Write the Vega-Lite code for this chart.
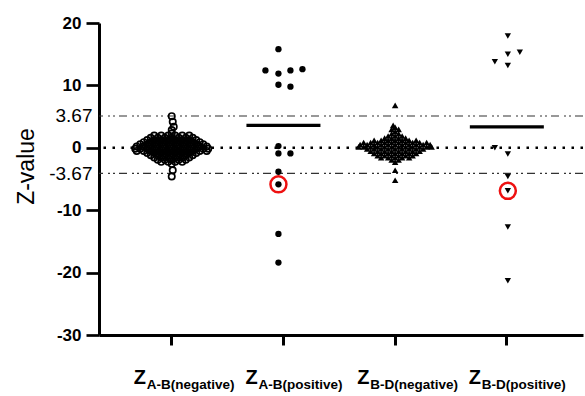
{
  "$schema": "https://vega.github.io/schema/vega-lite/v6.json",
  "width": 484,
  "height": 312,
  "autosize": {"type": "none"},
  "padding": {"left": 99, "top": 23, "right": 2, "bottom": 61},
  "background": "white",
  "config": {"view": {"stroke": null}, "font": "Liberation Sans"},
  "datasets": {
    "thresholds": [{"z": 5.1}, {"z": -4.1}],
    "zero": [{"z": 0}],
    "means": [{"group": "A-B(positive)", "z": 3.58}, {"group": "B-D(positive)", "z": 3.36}],
    "groups": [{"group": "A-B(negative)", "letter": "Z"}, {"group": "A-B(positive)", "letter": "Z"}, {"group": "B-D(negative)", "letter": "Z"}, {"group": "B-D(positive)", "letter": "Z"}],
    "flagged": [{"group": "A-B(positive)", "z": -5.86, "dx": -5}, {"group": "B-D(positive)", "z": -6.9, "dx": 1}],
    "abNeg": [
      {"z":5.07,"dx":0},{"z":4.17,"dx":1},{"z":3.37,"dx":2},{"z":2.84,"dx":0},
      {"z":2.3,"dx":0},
      {"z":1.95,"dx":-17.5},{"z":1.95,"dx":-10.5},{"z":1.95,"dx":-3.5},{"z":1.95,"dx":3.5},{"z":1.95,"dx":10.5},{"z":1.95,"dx":17.5},
      {"z":1.6,"dx":-21},{"z":1.6,"dx":-14},{"z":1.6,"dx":-7},{"z":1.6,"dx":0},{"z":1.6,"dx":7},{"z":1.6,"dx":14},{"z":1.6,"dx":21},
      {"z":1.25,"dx":-24.5},{"z":1.25,"dx":-17.5},{"z":1.25,"dx":-10.5},{"z":1.25,"dx":-3.5},{"z":1.25,"dx":3.5},{"z":1.25,"dx":10.5},{"z":1.25,"dx":17.5},{"z":1.25,"dx":24.5},
      {"z":0.9,"dx":-28},{"z":0.9,"dx":-21},{"z":0.9,"dx":-14},{"z":0.9,"dx":-7},{"z":0.9,"dx":0},{"z":0.9,"dx":7},{"z":0.9,"dx":14},{"z":0.9,"dx":21},{"z":0.9,"dx":28},
      {"z":0.55,"dx":-31.5},{"z":0.55,"dx":-24.5},{"z":0.55,"dx":-17.5},{"z":0.55,"dx":-10.5},{"z":0.55,"dx":-3.5},{"z":0.55,"dx":3.5},{"z":0.55,"dx":10.5},{"z":0.55,"dx":17.5},{"z":0.55,"dx":24.5},{"z":0.55,"dx":31.5},
      {"z":0.2,"dx":-35},{"z":0.2,"dx":-28},{"z":0.2,"dx":-21},{"z":0.2,"dx":-14},{"z":0.2,"dx":-7},{"z":0.2,"dx":0},{"z":0.2,"dx":7},{"z":0.2,"dx":14},{"z":0.2,"dx":21},{"z":0.2,"dx":28},{"z":0.2,"dx":35},
      {"z":-0.15,"dx":-36.5},{"z":-0.15,"dx":-31.5},{"z":-0.15,"dx":-24.5},{"z":-0.15,"dx":-17.5},{"z":-0.15,"dx":-10.5},{"z":-0.15,"dx":-3.5},{"z":-0.15,"dx":3.5},{"z":-0.15,"dx":10.5},{"z":-0.15,"dx":17.5},{"z":-0.15,"dx":24.5},{"z":-0.15,"dx":31.5},{"z":-0.15,"dx":36.5},
      {"z":-0.5,"dx":-35},{"z":-0.5,"dx":-28},{"z":-0.5,"dx":-21},{"z":-0.5,"dx":-14},{"z":-0.5,"dx":-7},{"z":-0.5,"dx":0},{"z":-0.5,"dx":7},{"z":-0.5,"dx":14},{"z":-0.5,"dx":21},{"z":-0.5,"dx":28},{"z":-0.5,"dx":35},
      {"z":-0.85,"dx":-24.5},{"z":-0.85,"dx":-17.5},{"z":-0.85,"dx":-10.5},{"z":-0.85,"dx":-3.5},{"z":-0.85,"dx":3.5},{"z":-0.85,"dx":10.5},{"z":-0.85,"dx":17.5},{"z":-0.85,"dx":24.5},
      {"z":-1.2,"dx":-21},{"z":-1.2,"dx":-14},{"z":-1.2,"dx":-7},{"z":-1.2,"dx":0},{"z":-1.2,"dx":7},{"z":-1.2,"dx":14},{"z":-1.2,"dx":21},
      {"z":-1.55,"dx":-17.5},{"z":-1.55,"dx":-10.5},{"z":-1.55,"dx":-3.5},{"z":-1.55,"dx":3.5},{"z":-1.55,"dx":10.5},{"z":-1.55,"dx":17.5},
      {"z":-1.9,"dx":-14},{"z":-1.9,"dx":-7},{"z":-1.9,"dx":0},{"z":-1.9,"dx":7},{"z":-1.9,"dx":14},
      {"z":-2.25,"dx":-10.5},{"z":-2.25,"dx":-3.5},{"z":-2.25,"dx":3.5},{"z":-2.25,"dx":10.5},
      {"z":-2.6,"dx":0},
      {"z":-3.6,"dx":1},{"z":-4.6,"dx":0}
    ],
    "abPos": [
      {"z": 15.8, "dx": -5}, {"z": 12.4, "dx": -18}, {"z": 11.9, "dx": -5}, {"z": 12.4, "dx": 7}, {"z": 12.6, "dx": 19},
      {"z": 10.1, "dx": -5}, {"z": 9.8, "dx": 7}, {"z": 0.27, "dx": -5}, {"z": -0.9, "dx": -5}, {"z": -0.9, "dx": 7},
      {"z": -3.84, "dx": -5}, {"z": -5.86, "dx": -5}, {"z": -13.8, "dx": -5}, {"z": -18.4, "dx": -5}
    ],
    "bdNeg": [
      {"z":6.8,"dx":0},{"z":3.6,"dx":-2},
      {"z":3.3,"dx":0},
      {"z":2.95,"dx":-3.5},{"z":2.95,"dx":3.5},
      {"z":2.6,"dx":0},
      {"z":2.25,"dx":-3.5},{"z":2.25,"dx":3.5},
      {"z":1.9,"dx":-7},{"z":1.9,"dx":0},{"z":1.9,"dx":7},
      {"z":1.55,"dx":-10.5},{"z":1.55,"dx":-3.5},{"z":1.55,"dx":3.5},{"z":1.55,"dx":10.5},
      {"z":1.2,"dx":-21},{"z":1.2,"dx":-14},{"z":1.2,"dx":-7},{"z":1.2,"dx":0},{"z":1.2,"dx":7},{"z":1.2,"dx":14},{"z":1.2,"dx":21},
      {"z":0.85,"dx":-31.5},{"z":0.85,"dx":-24.5},{"z":0.85,"dx":-17.5},{"z":0.85,"dx":-10.5},{"z":0.85,"dx":-3.5},{"z":0.85,"dx":3.5},{"z":0.85,"dx":10.5},{"z":0.85,"dx":17.5},{"z":0.85,"dx":24.5},{"z":0.85,"dx":31.5},
      {"z":0.5,"dx":-35},{"z":0.5,"dx":-28},{"z":0.5,"dx":-21},{"z":0.5,"dx":-14},{"z":0.5,"dx":-7},{"z":0.5,"dx":0},{"z":0.5,"dx":7},{"z":0.5,"dx":14},{"z":0.5,"dx":21},{"z":0.5,"dx":28},{"z":0.5,"dx":35},
      {"z":0.15,"dx":-36.5},{"z":0.15,"dx":-31.5},{"z":0.15,"dx":-24.5},{"z":0.15,"dx":-17.5},{"z":0.15,"dx":-10.5},{"z":0.15,"dx":-3.5},{"z":0.15,"dx":3.5},{"z":0.15,"dx":10.5},{"z":0.15,"dx":17.5},{"z":0.15,"dx":24.5},{"z":0.15,"dx":31.5},{"z":0.15,"dx":36.5},
      {"z":-0.2,"dx":-28},{"z":-0.2,"dx":-21},{"z":-0.2,"dx":-14},{"z":-0.2,"dx":-7},{"z":-0.2,"dx":0},{"z":-0.2,"dx":7},{"z":-0.2,"dx":14},{"z":-0.2,"dx":21},{"z":-0.2,"dx":28},
      {"z":-0.55,"dx":-24.5},{"z":-0.55,"dx":-17.5},{"z":-0.55,"dx":-10.5},{"z":-0.55,"dx":-3.5},{"z":-0.55,"dx":3.5},{"z":-0.55,"dx":10.5},{"z":-0.55,"dx":17.5},{"z":-0.55,"dx":24.5},
      {"z":-0.9,"dx":-21},{"z":-0.9,"dx":-14},{"z":-0.9,"dx":-7},{"z":-0.9,"dx":0},{"z":-0.9,"dx":7},{"z":-0.9,"dx":14},{"z":-0.9,"dx":21},
      {"z":-1.25,"dx":-17.5},{"z":-1.25,"dx":-10.5},{"z":-1.25,"dx":-3.5},{"z":-1.25,"dx":3.5},{"z":-1.25,"dx":10.5},{"z":-1.25,"dx":17.5},
      {"z":-1.6,"dx":-14},{"z":-1.6,"dx":-7},{"z":-1.6,"dx":0},{"z":-1.6,"dx":7},{"z":-1.6,"dx":14},
      {"z":-1.95,"dx":-3.5},{"z":-1.95,"dx":3.5},
      {"z":-2.3,"dx":0},
      {"z":-3.6,"dx":0},{"z":-5.2,"dx":0}
    ],
    "bdPos": [
      {"z": 17.9, "dx": 1}, {"z": 15.0, "dx": 1}, {"z": 15.3, "dx": 13}, {"z": 13.8, "dx": -12}, {"z": 13.2, "dx": 1},
      {"z": 0.0, "dx": -12}, {"z": -1.0, "dx": 1}, {"z": -4.6, "dx": 1}, {"z": -6.9, "dx": 1}, {"z": -12.7, "dx": 1}, {"z": -21.3, "dx": 1}
    ]
  },
  "layer": [
    {
      "data": {"name": "thresholds"},
      "mark": {"type": "rule", "strokeDash": [8, 4, 2, 3, 2, 5], "strokeWidth": 1.2, "color": "#333333"},
      "encoding": {
        "y": {
          "field": "z", "type": "quantitative", "title": "Z-value",
          "scale": {"domain": [-30, 20], "nice": false, "zero": false},
          "axis": {
            "values": [20, 10, 5.1, 0, -4.1, -10, -20, -30],
            "labelExpr": "datum.value == 5.1 ? '3.67' : datum.value == -4.1 ? '-3.67' : toString(datum.value)",
            "labelFont": "Liberation Sans",
            "labelFontSize": {"condition": {"test": "datum.value == 5.1 || datum.value == -4.1", "value": 19}, "value": 17},
            "labelFontWeight": {"condition": {"test": "datum.value == 5.1 || datum.value == -4.1", "value": "normal"}, "value": "bold"},
            "labelPadding": {"condition": {"test": "datum.value == 5.1 || datum.value == -4.1", "value": -6}, "value": 5},
            "tickOpacity": {"condition": {"test": "datum.value == 5.1 || datum.value == -4.1", "value": 0}, "value": 1},
            "labelColor": "black",
            "labelOverlap": false,
            "tickSize": 13, "tickWidth": 2.7, "tickColor": "black",
            "domainWidth": 3, "domainColor": "black",
            "grid": false,
            "titleFont": "Liberation Sans", "titleFontSize": 23, "titleFontWeight": "normal", "titleColor": "black",
            "titleX": -66, "titleY": 143, "titleAngle": 270, "titleAlign": "center", "titleBaseline": "alphabetic"
          }
        }
      }
    },
    {
      "data": {"name": "zero"},
      "mark": {"type": "rule", "strokeDash": [2.5, 6.5], "strokeWidth": 2.5, "color": "black"},
      "encoding": {"y": {"field": "z", "type": "quantitative", "title": "Z-value"}}
    },
    {
      "data": {"name": "groups"},
      "mark": {"type": "text", "y": "height", "dy": 49, "dx": -38, "align": "left", "baseline": "alphabetic", "fontSize": 20, "fontWeight": "bold", "font": "Liberation Sans", "color": "black"},
      "encoding": {
        "x": {
          "field": "group", "type": "nominal", "title": null,
          "scale": {"type": "band", "domain": ["A-B(negative)", "A-B(positive)", "B-D(negative)", "B-D(positive)"], "paddingInner": 0, "paddingOuter": 0.1665, "align": 0.454},
          "axis": {
            "labelAlign": "left", "labelOffset": -25, "labelBaseline": "alphabetic", "labelPadding": 43,
            "labelFont": "Liberation Sans", "labelFontSize": 13.5, "labelFontWeight": "bold", "labelColor": "black",
            "labelAngle": 0, "labelOverlap": false, "labelFlush": false, "labelBound": false,
            "tickSize": 10, "tickWidth": 3, "tickColor": "black",
            "domainWidth": 3, "domainColor": "black", "grid": false
          }
        },
        "text": {"field": "letter"}
      }
    },
    {
      "data": {"name": "means"},
      "mark": {"type": "tick", "orient": "horizontal", "size": 74, "thickness": 3.3, "color": "black", "opacity": 1},
      "encoding": {
        "x": {"field": "group", "type": "nominal", "title": null},
        "y": {"field": "z", "type": "quantitative", "title": "Z-value"}
      }
    },
    {
      "data": {"name": "abNeg"},
      "mark": {"type": "point", "shape": "circle", "filled": false, "stroke": "black", "strokeWidth": 1.7, "size": 40, "opacity": 1},
      "encoding": {
        "x": {"datum": "A-B(negative)", "type": "nominal", "title": null},
        "xOffset": {"field": "dx", "type": "quantitative", "scale": {"domain": [-55.85, 55.85]}},
        "y": {"field": "z", "type": "quantitative", "title": "Z-value"}
      }
    },
    {
      "data": {"name": "abPos"},
      "mark": {"type": "point", "shape": "circle", "filled": true, "color": "black", "size": 40, "opacity": 1},
      "encoding": {
        "x": {"datum": "A-B(positive)", "type": "nominal", "title": null},
        "xOffset": {"field": "dx", "type": "quantitative", "scale": {"domain": [-55.85, 55.85]}},
        "y": {"field": "z", "type": "quantitative", "title": "Z-value"}
      }
    },
    {
      "data": {"name": "bdNeg"},
      "mark": {"type": "point", "shape": "triangle-up", "filled": true, "color": "black", "size": 42, "opacity": 1},
      "encoding": {
        "x": {"datum": "B-D(negative)", "type": "nominal", "title": null},
        "xOffset": {"field": "dx", "type": "quantitative", "scale": {"domain": [-55.85, 55.85]}},
        "y": {"field": "z", "type": "quantitative", "title": "Z-value"}
      }
    },
    {
      "data": {"name": "bdPos"},
      "mark": {"type": "point", "shape": "triangle-down", "filled": true, "color": "black", "size": 40, "opacity": 1},
      "encoding": {
        "x": {"datum": "B-D(positive)", "type": "nominal", "title": null},
        "xOffset": {"field": "dx", "type": "quantitative", "scale": {"domain": [-55.85, 55.85]}},
        "y": {"field": "z", "type": "quantitative", "title": "Z-value"}
      }
    },
    {
      "data": {"name": "flagged"},
      "mark": {"type": "point", "shape": "circle", "filled": false, "stroke": "#ee1111", "strokeWidth": 2.5, "size": 256, "opacity": 1},
      "encoding": {
        "x": {"field": "group", "type": "nominal", "title": null},
        "xOffset": {"field": "dx", "type": "quantitative", "scale": {"domain": [-55.85, 55.85]}},
        "y": {"field": "z", "type": "quantitative", "title": "Z-value"}
      }
    }
  ]
}
